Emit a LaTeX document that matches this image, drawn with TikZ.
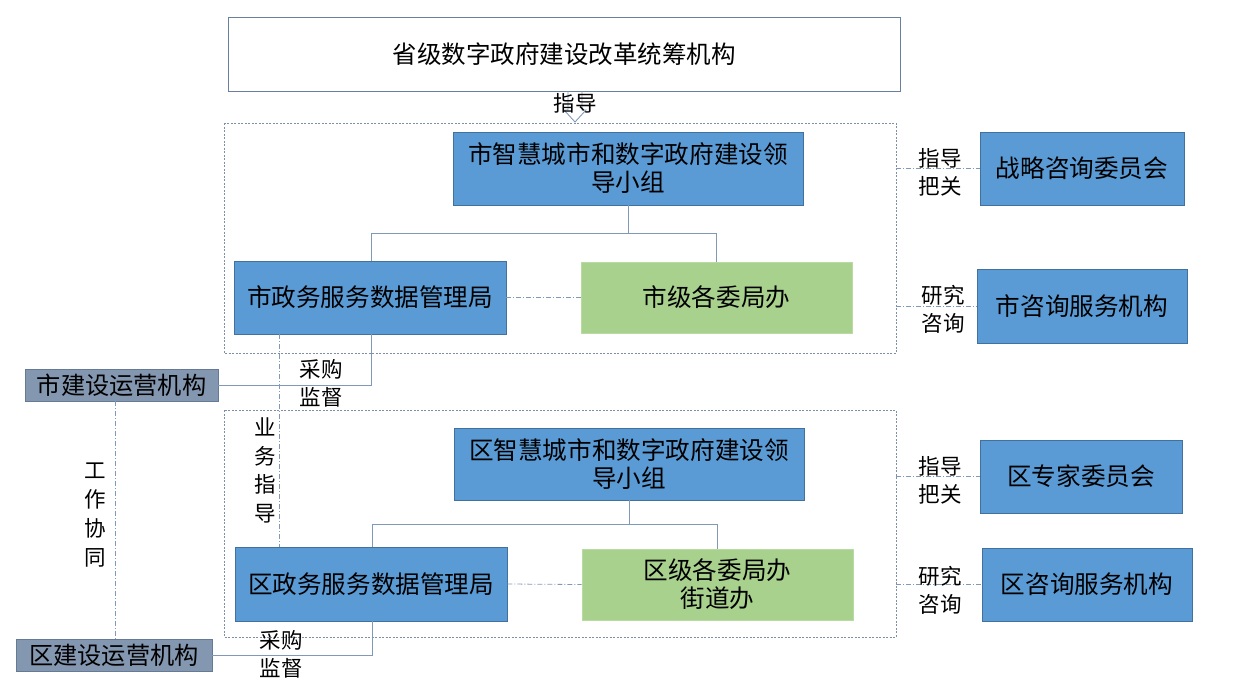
\documentclass[tikz,border=0pt]{standalone}
\usepackage{fontspec}
\setmainfont{Noto Sans CJK SC}
\usetikzlibrary{positioning}
\definecolor{bfill}{HTML}{5B9BD5}
\definecolor{bdraw}{HTML}{41719C}
\definecolor{gfill}{HTML}{A9D18E}
\definecolor{gdraw}{HTML}{B9DBA2}
\definecolor{sfill}{HTML}{8497B0}
\definecolor{sdraw}{HTML}{667A96}
\definecolor{conn}{HTML}{8099B8}
\definecolor{dashc}{HTML}{7F8FA6}
\definecolor{topc}{HTML}{6A7F9C}
\tikzset{
  box/.style={draw=bdraw, fill=bfill, line width=0.8pt, inner sep=0pt, align=center,
    font=\fontsize{24.6}{28}\selectfont, text=black},
  gbox/.style={box, draw=gdraw, fill=gfill},
  sbox/.style={box, draw=sdraw, fill=sfill, font=\fontsize{24.2}{26}\selectfont},
  cont/.style={draw=dashc, line width=0.7pt, dash pattern=on 2pt off 1.5pt},
  tree/.style={draw=conn, line width=0.9pt},
  dd/.style={draw=conn, line width=0.8pt, dash pattern=on 5pt off 2pt on 1pt off 2pt},
  lbl/.style={inner sep=0pt, align=center, font=\fontsize{21.5}{28}\selectfont},
}
\begin{document}
\begin{tikzpicture}[x=1pt,y=-1pt]
\useasboundingbox (0,0) rectangle (1247,696);
% top
\node[draw=topc, line width=0.8pt, minimum width=672pt, minimum height=74pt, inner sep=0pt,
  font=\fontsize{24.5}{28}\selectfont] (prov) at (564,54) {省级数字政府建设改革统筹机构};
% containers
\draw[cont] (224,123) rectangle (896,353);
\draw[cont] (224,410) rectangle (896,637);
% hollow arrow
\draw[draw=conn, line width=0.9pt] (568,91) -- (568,110) -- (564,110) -- (575,122) -- (586,110) -- (582,110) -- (582,91);
\node[lbl] (ld) at (575,103) {指导};
% city level
\node[box, minimum width=350pt, minimum height=73pt] (cl) at (628,168.5) {市智慧城市和数字政府建设领\\导小组};
\node[box, minimum width=272pt, minimum height=73pt] (cz) at (370,297.5) {市政务服务数据管理局};
\node[gbox, minimum width=271pt, minimum height=71pt] (cw) at (716.5,297.5) {市级各委局办};
\node[box, minimum width=204pt, minimum height=73pt] (cs) at (1082,168.5) {战略咨询委员会};
\node[box, minimum width=210pt, minimum height=74pt] (cq) at (1082,306) {市咨询服务机构};
\node[sbox, minimum width=193pt, minimum height=32pt] (cy) at (121.5,385) {市建设运营机构};
% district level
\node[box, minimum width=350pt, minimum height=72pt] (dl) at (629,464) {区智慧城市和数字政府建设领\\导小组};
\node[box, minimum width=272pt, minimum height=74pt] (dz) at (371,584) {区政务服务数据管理局};
\node[gbox, minimum width=271pt, minimum height=71pt] (dw) at (717.5,584.5) {区级各委局办\\街道办};
\node[box, minimum width=202pt, minimum height=73pt] (ds) at (1081,476.5) {区专家委员会};
\node[box, minimum width=210pt, minimum height=73pt] (dq) at (1087,584.5) {区咨询服务机构};
\node[sbox, minimum width=196pt, minimum height=32pt] (dy) at (114,655) {区建设运营机构};
% trees
\draw[tree] (cl.south) -- (628,233) -- (371,233) -- (cz.north -| 371,0);
\draw[tree] (628,233) -- (716,233) -- (cw.north -| 716,0);
\draw[tree] (dl.south) -- (629,524) -- (372,524) -- (dz.north -| 372,0);
\draw[tree] (629,524) -- (717,524) -- (dw.north -| 717,0);
% dash-dot links
\draw[dd] (cz.east) -- (cw.west);
\draw[dd] (dz.east) -- (dw.west);
\draw[dd] (896,168.5) -- (cs.west);
\draw[dd] (896,306) -- (cq.west);
\draw[dd] (896,476.5) -- (ds.west);
\draw[dd] (896,584.5) -- (dq.west);
\draw[dd] (cz.south -| 279,0) -- (dz.north -| 279,0);
\draw[dd] (cy.south -| 115,0) -- (dy.north -| 115,0);
% procurement
\draw[tree] (cy.east) -- (371,385) -- (cz.south -| 371,0);
\draw[tree] (dy.east) -- (372,655) -- (dz.south -| 372,0);
% labels
\node[lbl] (l1) at (940,172) {指导\\把关};
\node[lbl] (l2) at (943,309) {研究\\咨询};
\node[lbl] (l3) at (940,480) {指导\\把关};
\node[lbl] (l4) at (940,590.5) {研究\\咨询};
\node[lbl] (l5) at (321,383.5) {采购\\监督};
\node[lbl] (l6) at (281,654.5) {采购\\监督};
\node[lbl, font=\fontsize{21.5}{28.5}\selectfont] (l7) at (265,470.5) {业\\务\\指\\导};
\node[lbl, font=\fontsize{21.5}{29}\selectfont] (l8) at (95,515) {工\\作\\协\\同};
\end{tikzpicture}
\end{document}
